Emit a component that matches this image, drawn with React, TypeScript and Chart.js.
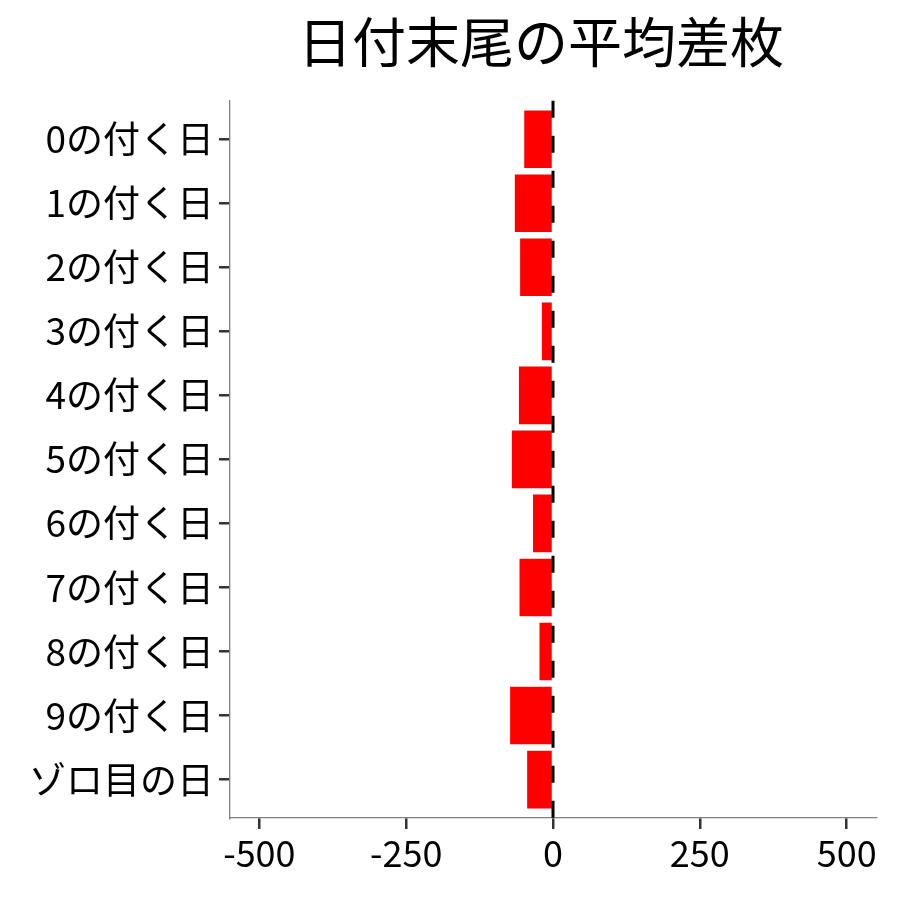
import { useEffect, useRef } from 'react';
import Chart from 'chart.js/auto';

const categories = [
  '0の付く日', '1の付く日', '2の付く日', '3の付く日', '4の付く日',
  '5の付く日', '6の付く日', '7の付く日', '8の付く日', '9の付く日', 'ゾロ目の日',
];
const avgDiff = [-49, -65, -56, -19, -58, -70, -34, -57, -23, -73, -44];
const xTicks = [-500, -250, 0, 250, 500];

const FONT = '"Noto Sans CJK JP", "Noto Sans", sans-serif';

// dashed reference line at x = 0
const zeroLine = {
  id: 'zeroLine',
  afterLayout(chart: any) {
    // nudge the title a little to the left, like the original
    if (chart.titleBlock) chart.titleBlock.left -= 24;
  },
  afterDatasetsDraw(chart: Chart) {
    const { ctx, chartArea, scales } = chart;
    const x = scales.x.getPixelForValue(0);
    ctx.save();
    ctx.strokeStyle = '#000';
    ctx.lineWidth = 3;
    ctx.setLineDash([17, 18]);
    ctx.beginPath();
    ctx.moveTo(x, chartArea.top);
    ctx.lineTo(x, chartArea.bottom + 8);
    ctx.stroke();
    ctx.restore();
  },
};

export default function App() {
  const chartRef = useRef<HTMLCanvasElement>(null);
  const chartInstance = useRef<Chart | null>(null);

  useEffect(() => {
    document.body.style.margin = '0';
    if (!chartRef.current) return;
    if (chartInstance.current) chartInstance.current.destroy();
    const ctx = chartRef.current.getContext('2d');
    if (!ctx) return;

    chartInstance.current = new Chart(ctx, {
      type: 'bar',
      data: {
        datasets: [{
          data: avgDiff.map((v, i) => ({ x: v, y: i })),
          backgroundColor: '#ff0000',
          barPercentage: 0.9,
          categoryPercentage: 1,
        }],
      },
      options: {
        indexAxis: 'y',
        animation: false,
        responsive: true,
        maintainAspectRatio: false,
        layout: { padding: { top: 0, right: 24, bottom: 0, left: 0 } },
        plugins: {
          legend: { display: false },
          tooltip: { enabled: false },
          title: {
            display: true,
            text: '日付末尾の平均差枚',
            fullSize: false,
            color: '#000',
            font: { family: FONT, size: 54, weight: 'normal' },
            padding: { top: 10, bottom: 26 },
          },
        },
        scales: {
          x: {
            min: -550,
            max: 550,
            afterBuildTicks: (scale: any) => {
              scale.ticks = xTicks.map((v) => ({ value: v }));
            },
            afterFit: (scale: any) => {
              scale.height = 82;
            },
            grid: {
              drawOnChartArea: false,
              drawTicks: true,
              tickLength: 11,
              color: '#333',
              lineWidth: 2.5,
            },
            border: { display: true, color: '#7f7f7f', width: 1.3 },
            ticks: {
              color: '#000',
              padding: 3,
              maxRotation: 0,
              font: { family: FONT, size: 36 },
            },
          },
          y: {
            type: 'linear',
            reverse: true,
            offset: false,
            min: -0.6,
            max: categories.length - 0.4,
            afterBuildTicks: (scale: any) => {
              scale.ticks = categories.map((_, i) => ({ value: i }));
            },
            afterFit: (scale: any) => {
              scale.width = 230;
            },
            grid: {
              offset: false,
              drawOnChartArea: false,
              drawTicks: true,
              tickLength: 11,
              color: '#333',
              lineWidth: 2.5,
            },
            border: { display: true, color: '#7f7f7f', width: 1.3 },
            ticks: {
              color: '#000',
              padding: 5,
              autoSkip: false,
              font: { family: FONT, size: 37 },
              callback: (v: any) => categories[v] ?? '',
            },
          },
        },
      },
      plugins: [zeroLine],
    });

    return () => {
      if (chartInstance.current) {
        chartInstance.current.destroy();
        chartInstance.current = null;
      }
    };
  }, []);

  return (
    <div style={{ width: 900, height: 900, background: '#fff' }}>
      <canvas ref={chartRef}></canvas>
    </div>
  );
}
